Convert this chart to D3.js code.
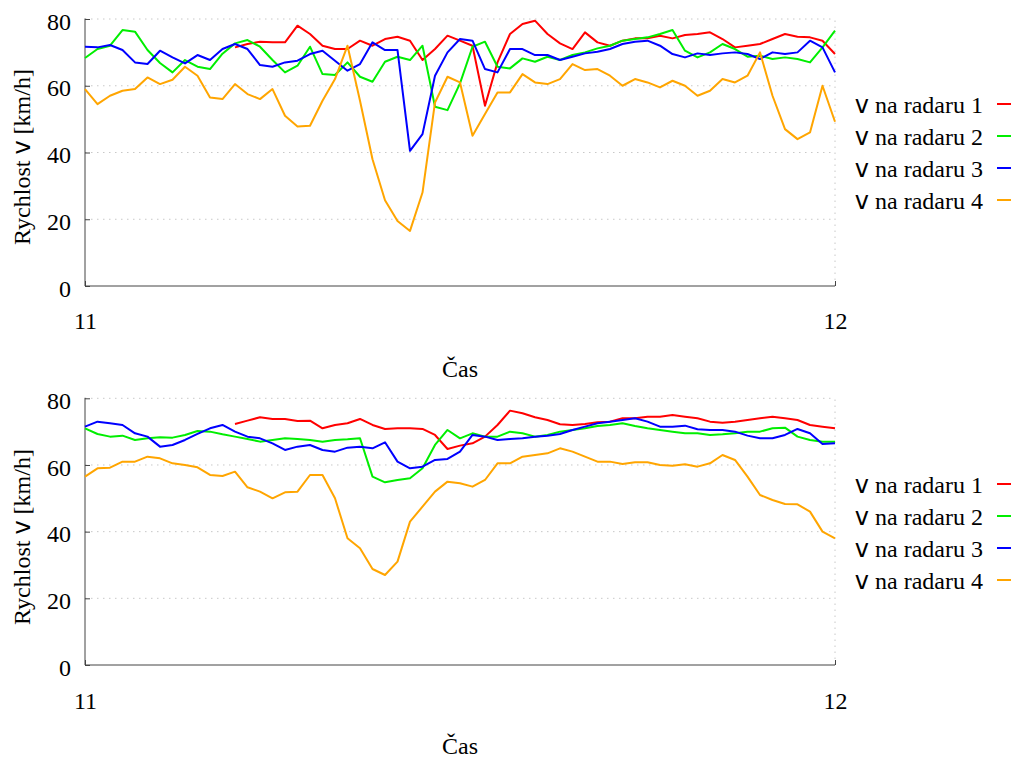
<!DOCTYPE html>
<html><head><meta charset="utf-8">
<script src="https://cdn.jsdelivr.net/npm/d3@7"></script>
<style>body{margin:0;background:#fff}svg{display:block}</style>
</head><body>
<svg id="chart" width="1011" height="760"></svg>
<script>
// sample times: minutes after 11:00
const minutes = [0,1,2,3,4,5,6,7,8,9,10,11,12,13,14,15,16,17,18,19,20,21,22,23,24,25,26,27,28,29,30,31,32,33,34,35,36,37,38,39,40,41,42,43,44,45,46,47,48,49,50,51,52,53,54,55,56,57,58,59,60];
const seriesNames = ["na radaru 1","na radaru 2","na radaru 3","na radaru 4"];
const seriesColors = ["#ff0000","#00ee00","#0000ff","#ffa500"];
const yTicks = [0,20,40,60,80];
const xTicks = [11,12];
const xTickLabels = ["11","12"];
const yTitle = ["Rychlost ","v"," [km/h]"];
const xTitle = "Čas";

// top panel
const topRadar1 = [null,null,null,null,null,null,null,null,null,null,null,null,
 71.5,72.5,73.2,73,73,78,75.5,72,71,71,73.5,72,74,74.7,73.5,67.7,71,75,73.5,72,54,67,75.5,78.5,79.5,75.5,72.7,71,76,
 73,72,73.5,74.2,74.2,75,74.2,75.2,75.5,76,74,71.5,72,72.5,74,75.5,74.7,74.5,73.5,69.5];
const topRadar2 = [68.3,71,72,76.7,76.2,70.7,66.8,64,67.7,65.7,65,69.6,72.7,73.7,71.7,67.7,64,66,71.7,63.5,63.2,
 67,62.7,61.2,67.2,68.7,67.7,72,53.7,52.7,60.7,71.7,73.2,65.7,65.2,68.2,67.2,68.7,67.7,69.2,70,
 71.2,72,73.5,74,74.5,75.5,76.7,70.5,68.5,70,72.5,71,68.7,69,68,68.5,68,67,71.5,76.5];
const topRadar3 = [71.7,71.5,72.2,70.7,67,66.5,70.5,68.5,66.7,69.2,67.7,71,72.5,71,66.2,65.7,67,67.5,69.5,70.5,67.5,
 64.5,66.5,73,70.7,70.7,40.5,45.5,63,70,74,73.5,65,64,71,71,69.2,69.2,67.7,68.7,69.7,
 70.2,71,72.5,73.2,73.5,72,69.5,68.5,69.7,69.2,69.7,70,69.5,68,70,69.5,70,73.5,71.5,64];
const topRadar4 = [59,54.5,57,58.5,59,62.5,60.5,61.8,65.7,63,56.5,56,60.5,57.5,56,59,51,47.8,48,55.5,62,
 72,55.5,38,25.7,19.5,16.5,28,55,62.7,61,45,51.5,58,58,63.5,61,60.5,62,66.5,64.7,
 65,63,60,62,61,59.5,61.5,60,57,58.5,62,61,63,70,57,47,44,46,60,49.2];

// bottom panel
const botRadar1 = [null,null,null,null,null,null,null,null,null,null,null,null,
 72.3,73.3,74.3,73.8,73.8,73.2,73.3,71,72,72.5,73.8,72,70.8,71,71,70.8,69,64.8,65.8,66.5,68.5,72,76.3,75.5,74.3,73.5,72.2,72,72.3,
 72.8,73,74,74,74.5,74.5,75,74.5,74,73,72.7,73,73.5,74,74.5,74,73.5,72,71.5,71];
const botRadar2 = [71,69.3,68.5,68.8,67.5,68,68.3,68.2,69,70.2,70,69.2,68.5,67.8,67,67.5,68,67.8,67.5,67,67.5,
 67.7,68,56.5,54.8,55.5,56,59,66,70.5,68,69.5,68.5,68.5,70,69.5,68.5,69,70,70.5,71,
 71.7,72,72.5,71.7,71,70.5,70,69.5,69.5,69,69.2,69.5,70,70,71,71.2,68.5,67.5,67,67];
const botRadar3 = [71.5,73,72.5,72,69.5,68.5,65.5,66,67.5,69.3,71,72,70,68.5,68,66.5,64.5,65.5,66,64.5,64,
 65.2,65.5,65,66.8,61,59,59.5,61.5,61.8,64,69,68.5,67.5,67.8,68,68.5,68.8,69.3,70.5,71.5,
 72.5,73,73.5,74,73,71.5,71.5,71.8,70.7,70.5,70.5,70,68.8,68,68,69,70.8,69.5,66.3,66.5];
const botRadar4 = [56.5,59,59.2,61,61,62.5,62,60.5,60,59.3,57,56.7,58,53.3,52,50,51.8,52,57,57,50,
 38,35,28.8,27,31,43,47.5,52,55,54.5,53.5,55.5,60.5,60.5,62.5,63,63.5,65,64,62.5,
 61,61,60.3,60.8,60.8,60,59.8,60.2,59.5,60.5,63,61.5,56.5,51,49.5,48.3,48.2,46,40,38];

const panels = [
  {series:[topRadar1,topRadar2,topRadar3,topRadar4], top:19, bottom:286, xLab:329, xTitleY:377, yTitleY:157, legendY:104},
  {series:[botRadar1,botRadar2,botRadar3,botRadar4], top:398.3, bottom:665, xLab:709, xTitleY:754, yTitleY:537, legendY:484}
];

const serif = "'Liberation Serif','Times New Roman',serif";
const sans = "'DejaVu Sans',sans-serif";
const svg = d3.select("#chart");
const x = d3.scaleLinear().domain([11,12]).range([85,835]);

panels.forEach(p => {
  const y = d3.scaleLinear().domain([0,80]).range([p.bottom,p.top]);
  const g = svg.append("g");
  // grid
  g.selectAll("line.gy").data(yTicks.filter(d=>d>0)).join("line")
    .attr("x1",x(11)).attr("x2",x(12)).attr("y1",d=>y(d)).attr("y2",d=>y(d))
    .attr("stroke","#c8c8c8").attr("stroke-width",1).attr("stroke-dasharray","1.5,4.5");
  g.append("line").attr("x1",x(12)).attr("x2",x(12)).attr("y1",y(0)).attr("y2",y(80))
    .attr("stroke","#c8c8c8").attr("stroke-width",1).attr("stroke-dasharray","1.5,4.5");
  // axes
  const yAxis = d3.axisLeft(y).tickValues(yTicks).tickSize(-5).tickPadding(14).tickFormat(d3.format("d"));
  const ga = g.append("g").attr("transform",`translate(${x(11)},0)`).call(yAxis);
  ga.select(".domain").attr("stroke","#444").attr("d",`M0,${y(80)-0.5}V${y(0)}`);
  ga.selectAll(".tick line").attr("stroke","#444");
  ga.selectAll(".tick text").attr("font-family",serif).attr("font-size",24).attr("fill","#000").attr("dy","0.42em");
  const xAxis = d3.axisBottom(x).tickValues(xTicks).tickSize(-5).tickFormat((d,i)=>xTickLabels[i]);
  const gx = g.append("g").attr("transform",`translate(0,${y(0)})`).call(xAxis);
  gx.select(".domain").attr("stroke","#444").attr("d",`M${x(11)},0H${x(12)}`);
  gx.selectAll(".tick line").attr("stroke","#444");
  gx.selectAll(".tick text").attr("font-family",serif).attr("font-size",24).attr("fill","#000")
    .attr("y",p.xLab - y(0)).attr("dy",0);
  // titles
  g.append("text").attr("x",(x(11)+x(12))/2).attr("y",p.xTitleY).attr("text-anchor","middle")
    .attr("font-family",serif).attr("font-size",24).text(xTitle);
  const yt = g.append("text").attr("transform",`translate(30,${p.yTitleY}) rotate(-90)`).attr("text-anchor","middle")
    .attr("font-family",serif).attr("font-size",24);
  yTitle.forEach((s,i)=> yt.append("tspan").attr("font-family", i===1?sans:serif).text(s));
  // lines
  const line = d3.line().defined(d=>d.v!==null).x(d=>x(11+d.m/60)).y(d=>y(d.v));
  p.series.forEach((vals,k)=>{
    const data = minutes.map((m,i)=>({m:m,v:vals[i]}));
    g.append("path").datum(data).attr("d",line).attr("fill","none")
      .attr("stroke",seriesColors[k]).attr("stroke-width",2).attr("stroke-linejoin","round");
  });
  // legend
  seriesNames.forEach((name,k)=>{
    const ly = p.legendY + k*32;
    const t = g.append("text").attr("x",983).attr("y",ly+9).attr("text-anchor","end").attr("font-size",24);
    t.append("tspan").attr("font-family",sans).text("v");
    t.append("tspan").attr("font-family",serif).text(" "+name);
    g.append("line").attr("x1",997).attr("x2",1045).attr("y1",ly).attr("y2",ly)
      .attr("stroke",seriesColors[k]).attr("stroke-width",2);
  });
});
</script>
</body></html>
